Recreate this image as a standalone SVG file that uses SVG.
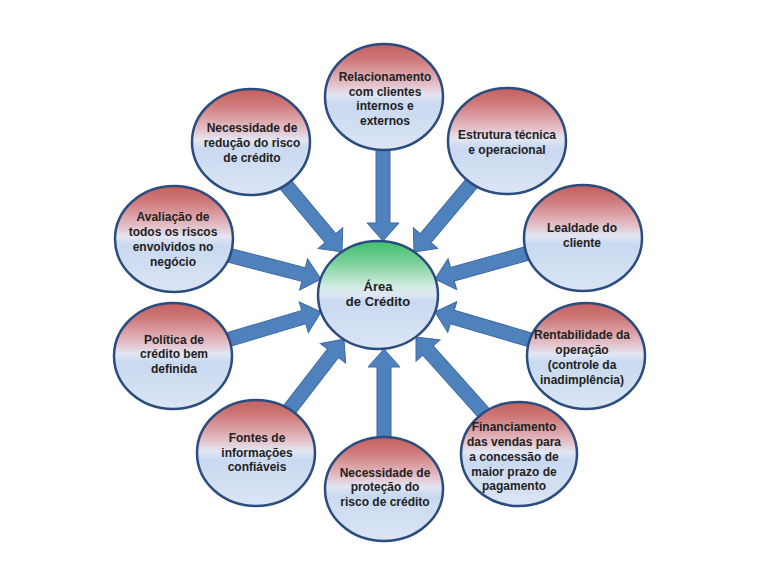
<svg xmlns="http://www.w3.org/2000/svg" width="768" height="576" viewBox="0 0 768 576">
<defs>
<linearGradient id="gOuter" x1="0" y1="0" x2="0" y2="1">
<stop offset="0" stop-color="#c4605f"/>
<stop offset="0.15" stop-color="#cf7a7a"/>
<stop offset="0.38" stop-color="#e4c0c8"/>
<stop offset="0.48" stop-color="#e2e6f3"/>
<stop offset="0.56" stop-color="#c9d9f0"/>
<stop offset="1" stop-color="#dbe5f5"/>
</linearGradient>
<linearGradient id="gCenter" x1="0" y1="0" x2="0" y2="1">
<stop offset="0" stop-color="#3ebf6c"/>
<stop offset="0.18" stop-color="#74cf94"/>
<stop offset="0.42" stop-color="#d2ebe2"/>
<stop offset="0.5" stop-color="#dfe7f4"/>
<stop offset="0.56" stop-color="#c9d9f0"/>
<stop offset="1" stop-color="#dbe5f5"/>
</linearGradient>
</defs>
<style>
.node ellipse{fill:url(#gOuter);stroke:#2b4c7e;stroke-width:2.5}
#center ellipse{fill:url(#gCenter)}
.node text{font-family:"Liberation Sans",Arial,sans-serif;font-weight:bold;font-size:12px;fill:#222;text-anchor:middle}
#center text{font-size:13px}
.arrow{fill:#4f81bd;stroke:#3b6aa3;stroke-width:1}
</style>
<rect width="768" height="576" fill="#ffffff"/>
<g id="connectors">
<path class="arrow" transform="translate(383 241) rotate(90)" d="M-95 -7 L-18 -7 L-18 -16 L0 0 L-18 16 L-18 7 L-95 7 Z"/>
<path class="arrow" transform="translate(414 252) rotate(130)" d="M-95 -7 L-18 -7 L-18 -16 L0 0 L-18 16 L-18 7 L-95 7 Z"/>
<path class="arrow" transform="translate(435 279) rotate(164.5)" d="M-103 -7 L-18 -7 L-18 -16 L0 0 L-18 16 L-18 7 L-103 7 Z"/>
<path class="arrow" transform="translate(435 312) rotate(-163.7)" d="M-107 -7 L-18 -7 L-18 -16 L0 0 L-18 16 L-18 7 L-107 7 Z"/>
<path class="arrow" transform="translate(416 337) rotate(-131.75)" d="M-105 -7 L-18 -7 L-18 -16 L0 0 L-18 16 L-18 7 L-105 7 Z"/>
<path class="arrow" transform="translate(384 349) rotate(-90)" d="M-92 -7 L-18 -7 L-18 -16 L0 0 L-18 16 L-18 7 L-92 7 Z"/>
<path class="arrow" transform="translate(344 339) rotate(-52.3)" d="M-95 -7 L-18 -7 L-18 -16 L0 0 L-18 16 L-18 7 L-95 7 Z"/>
<path class="arrow" transform="translate(321 312) rotate(-16.6)" d="M-104 -7 L-18 -7 L-18 -16 L0 0 L-18 16 L-18 7 L-104 7 Z"/>
<path class="arrow" transform="translate(321 279) rotate(14.5)" d="M-102 -7 L-18 -7 L-18 -16 L0 0 L-18 16 L-18 7 L-102 7 Z"/>
<path class="arrow" transform="translate(342 252) rotate(50.1)" d="M-95 -7 L-18 -7 L-18 -16 L0 0 L-18 16 L-18 7 L-95 7 Z"/>
</g>
<g id="center" class="node">
<ellipse cx="378" cy="295" rx="60" ry="54"/>
<text x="378" y="291">Área</text>
<text x="378" y="306">de Crédito</text>
</g>
<g id="relacionamento" class="node">
<ellipse cx="384" cy="97" rx="59" ry="53"/>
<text x="385" y="81">Relacionamento</text>
<text x="385" y="96">com clientes</text>
<text x="385" y="110">internos e</text>
<text x="385" y="125">externos</text>
</g>
<g id="estrutura" class="node">
<ellipse cx="507" cy="141" rx="59" ry="53"/>
<text x="507" y="139">Estrutura técnica</text>
<text x="507" y="154">e operacional</text>
</g>
<g id="lealdade" class="node">
<ellipse cx="583" cy="238" rx="59" ry="53"/>
<text x="582" y="232">Lealdade do</text>
<text x="582" y="247">cliente</text>
</g>
<g id="rentabilidade" class="node">
<ellipse cx="586" cy="356" rx="59" ry="53"/>
<text x="582" y="339">Rentabilidade da</text>
<text x="582" y="354">operação</text>
<text x="582" y="369">(controle da</text>
<text x="582" y="384">inadimplência)</text>
</g>
<g id="financiamento" class="node">
<ellipse cx="519" cy="454" rx="58" ry="52"/>
<text x="514" y="431">Financiamento</text>
<text x="514" y="446">das vendas para</text>
<text x="514" y="461">a concessão de</text>
<text x="514" y="476">maior prazo de</text>
<text x="514" y="490">pagamento</text>
</g>
<g id="protecao" class="node">
<ellipse cx="384" cy="489" rx="59" ry="52"/>
<text x="385" y="477">Necessidade de</text>
<text x="385" y="491">proteção do</text>
<text x="385" y="506">risco de crédito</text>
</g>
<g id="fontes" class="node">
<ellipse cx="256" cy="453" rx="59" ry="53"/>
<text x="257" y="442">Fontes de</text>
<text x="257" y="457">informações</text>
<text x="257" y="471">confiáveis</text>
</g>
<g id="politica" class="node">
<ellipse cx="173" cy="356" rx="59" ry="53"/>
<text x="174" y="344">Política de</text>
<text x="174" y="358">crédito bem</text>
<text x="174" y="373">definida</text>
</g>
<g id="avaliacao" class="node">
<ellipse cx="174" cy="239" rx="59" ry="53"/>
<text x="173" y="221">Avaliação de</text>
<text x="173" y="236">todos os riscos</text>
<text x="173" y="251">envolvidos no</text>
<text x="173" y="266">negócio</text>
</g>
<g id="reducao" class="node">
<ellipse cx="251" cy="142" rx="59" ry="53"/>
<text x="252" y="132">Necessidade de</text>
<text x="252" y="147">redução do risco</text>
<text x="252" y="162">de crédito</text>
</g>
</svg>
